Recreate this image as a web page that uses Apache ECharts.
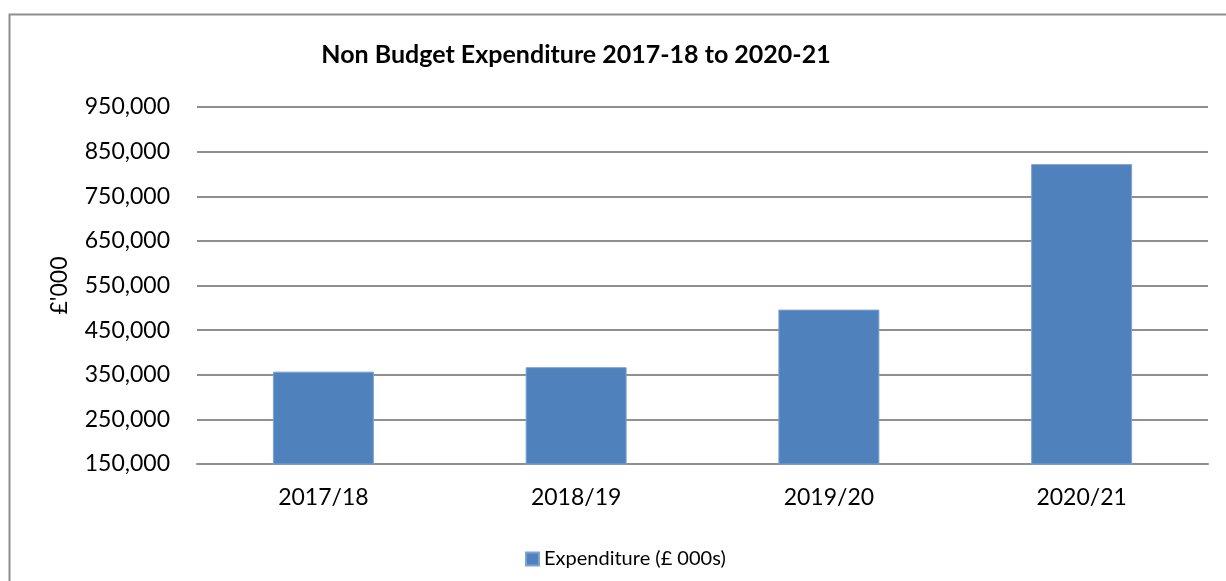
<!DOCTYPE html>
<html>
<head>
<meta charset="utf-8">
<title>Non Budget Expenditure 2017-18 to 2020-21</title>
<script src="https://cdn.jsdelivr.net/npm/echarts@6/dist/echarts.min.js"></script>
<style>
  html, body { margin: 0; padding: 0; background: #ffffff; }
  #chart { width: 1226px; height: 581px; }
</style>
</head>
<body>
<div id="chart"></div>
<script>
// Financial years on the category axis
const years = ['2017/18', '2018/19', '2019/20', '2020/21'];
// Non budget expenditure, £ thousands
const expenditure = [357000, 367000, 496000, 822000];
// Value axis range and step
const yMin = 150000;
const yMax = 950000;
const yStep = 100000;

const FONT = 'Lato, "Open Sans", sans-serif';
const GRID_COLOR = '#8f8f8f';

const chart = echarts.init(document.getElementById('chart'), null, { renderer: 'canvas' });

chart.setOption({
  backgroundColor: '#ffffff',
  animation: false,
  textStyle: { fontFamily: FONT },
  graphic: [
    {
      type: 'rect',
      shape: { x: 9.5, y: 14.5, width: 1400, height: 800 },
      style: { fill: 'none', stroke: GRID_COLOR, lineWidth: 2 },
      silent: true
    },
    {
      type: 'text',
      x: 576,
      y: 55,
      style: {
        text: 'Non Budget Expenditure 2017-18 to 2020-21',
        fontFamily: FONT,
        fontWeight: 'bold',
        fontSize: 25,
        fill: '#000000',
        align: 'center',
        verticalAlign: 'middle'
      }
    }
  ],
  legend: {
    data: ['Expenditure (£ 000s)'],
    left: 520,
    top: 544,
    icon: 'rect',
    itemWidth: 13,
    itemHeight: 13,
    textStyle: { fontFamily: FONT, fontSize: 20, color: '#000000' }
  },
  grid: {
    left: 197,
    right: 18,
    top: 107,
    bottom: 117,
    containLabel: false
  },
  xAxis: {
    type: 'category',
    data: years,
    axisTick: { show: false },
    axisLine: { show: true, lineStyle: { color: GRID_COLOR, width: 2 } },
    axisLabel: { margin: 22, fontFamily: FONT, fontSize: 23, color: '#000000' }
  },
  yAxis: {
    type: 'value',
    min: yMin,
    max: yMax,
    interval: yStep,
    name: "£'000",
    nameLocation: 'middle',
    nameRotate: 90,
    nameGap: 126,
    nameTextStyle: { fontFamily: FONT, fontSize: 23, color: '#000000' },
    axisLine: { show: false },
    axisTick: { show: false },
    splitLine: { show: true, lineStyle: { color: GRID_COLOR, width: 2 } },
    axisLabel: {
      margin: 27,
      fontFamily: FONT,
      fontSize: 23,
      color: '#000000',
      formatter: v => v.toLocaleString('en-GB')
    }
  },
  series: [
    {
      name: 'Expenditure (£ 000s)',
      type: 'bar',
      data: expenditure,
      barWidth: 101,
      itemStyle: { color: '#4f81bd', borderColor: '#7fa3d1', borderWidth: 1 }
    }
  ]
});
</script>
</body>
</html>
